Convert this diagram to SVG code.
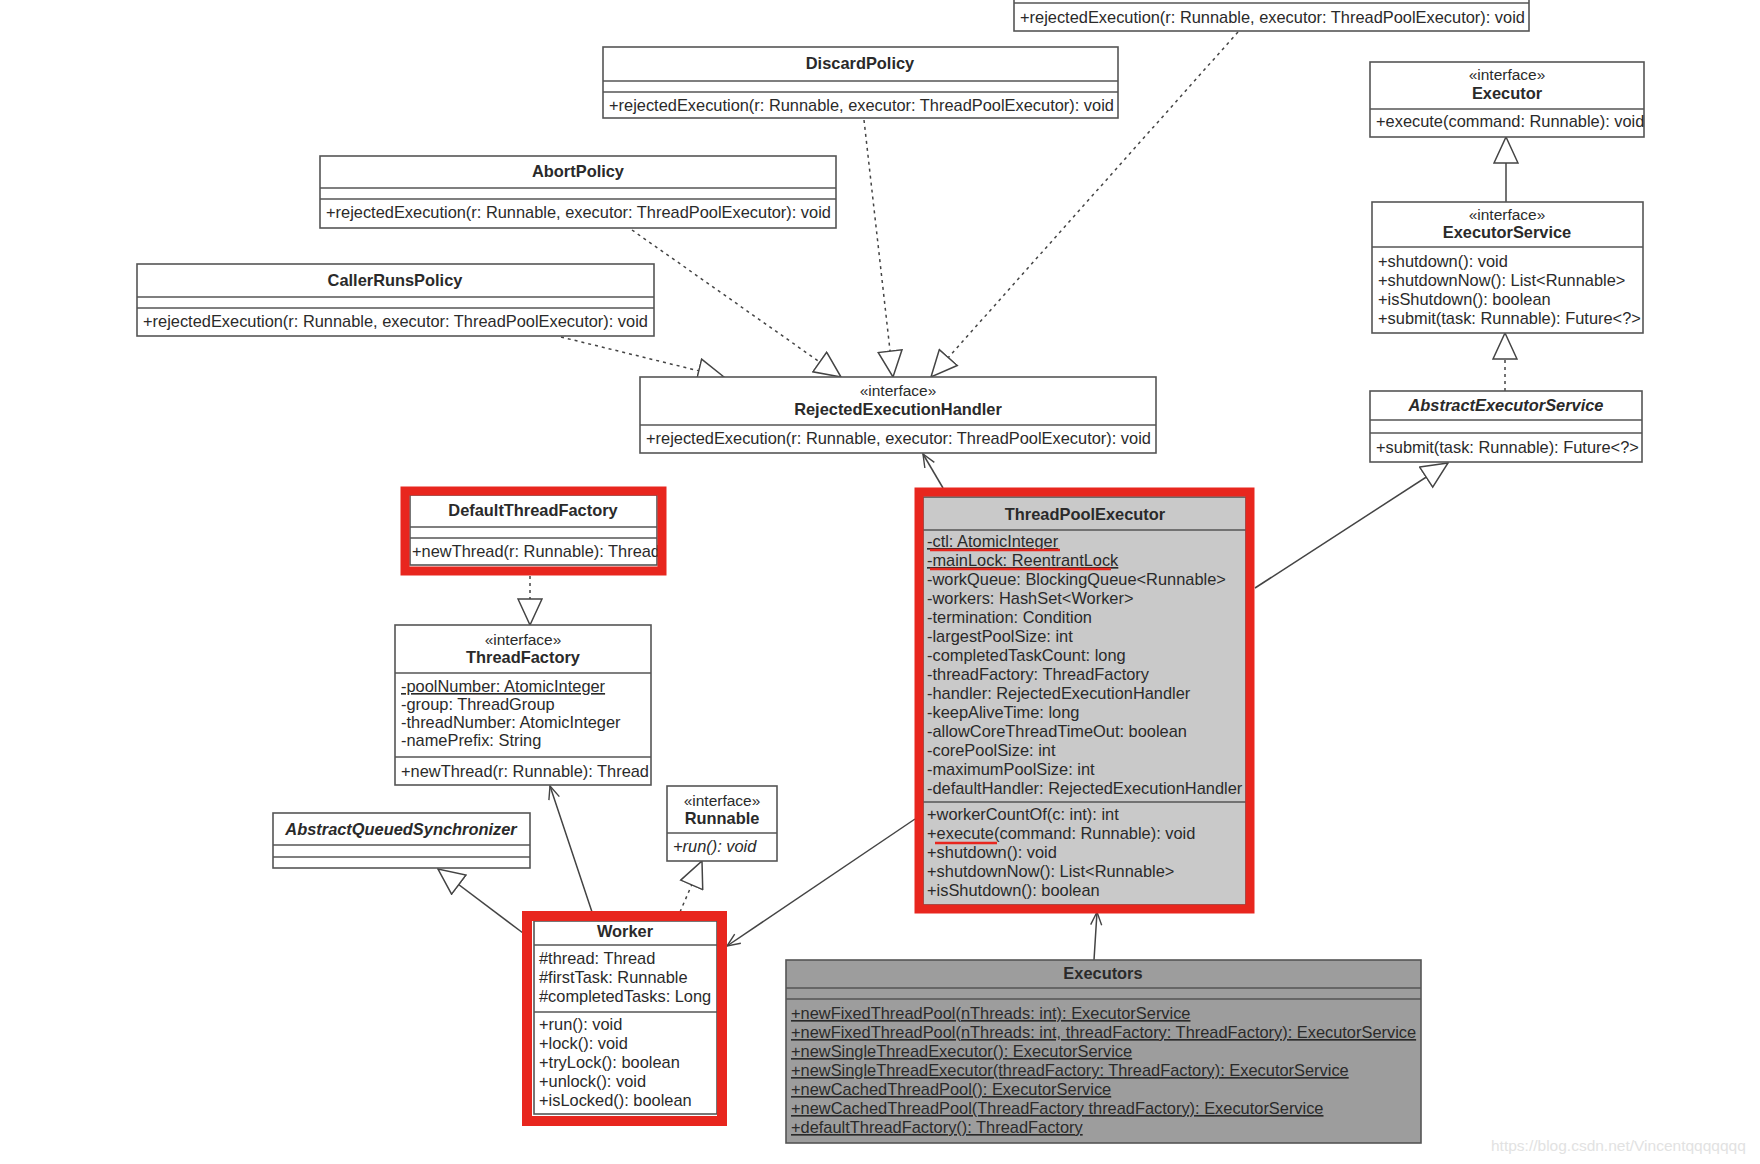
<svg xmlns="http://www.w3.org/2000/svg" width="1760" height="1164" viewBox="0 0 1760 1164">
<defs>
<marker id="tri" viewBox="-1 -1 28 26" refX="26" refY="12" markerWidth="28" markerHeight="26" markerUnits="userSpaceOnUse" orient="auto">
<path d="M0,0 L26,12 L0,24 Z" fill="#fff" stroke="#444" stroke-width="1.5"/>
</marker>
<marker id="open" viewBox="-1 -1 15 13" refX="13" refY="5.5" markerWidth="15" markerHeight="13" markerUnits="userSpaceOnUse" orient="auto">
<path d="M0,0 L13,5.5 L0,11" fill="none" stroke="#444" stroke-width="1.4"/>
</marker>
<style>
.box{fill:#fff;stroke:#555;stroke-width:1.6}
.tpe{fill:#c9c9c9;stroke:#555;stroke-width:1.6}
.exs{fill:#9d9d9d;stroke:#555;stroke-width:1.6}
.sep{stroke:#555;stroke-width:1.6}
text{font-family:"Liberation Sans",Arial,sans-serif;font-size:16.4px;fill:#2a2a2a}
.t{font-weight:bold;text-anchor:middle}
.ti{font-weight:bold;font-style:italic;text-anchor:middle}
.st{text-anchor:middle;font-size:15.5px}
.u{text-decoration:underline}
.it{font-style:italic}
.red{fill:none;stroke:#e8261e;stroke-width:9}
.redl{stroke:#e8261e;stroke-width:2.5}
.dash{fill:none;stroke:#444;stroke-width:1.5;stroke-dasharray:3 4}
.solid{fill:none;stroke:#444;stroke-width:1.5}
.wm{fill:#e2e2e2;font-size:15.5px}
</style>
</defs>
<rect width="1760" height="1164" fill="#fff"/>

<g id="connectors">
<line class="dash" x1="561" y1="337" x2="724" y2="377" marker-end="url(#tri)"/>
<line class="dash" x1="632" y1="230" x2="841" y2="377" marker-end="url(#tri)"/>
<line class="dash" x1="864" y1="120" x2="893" y2="377" marker-end="url(#tri)"/>
<line class="dash" x1="1238" y1="32" x2="931" y2="377" marker-end="url(#tri)"/>
<line class="solid" x1="1506" y1="202" x2="1506" y2="137" marker-end="url(#tri)"/>
<line class="dash" x1="1505" y1="391" x2="1505" y2="333" marker-end="url(#tri)"/>
<line class="solid" x1="1255" y1="588" x2="1448" y2="463" marker-end="url(#tri)"/>
<line class="solid" x1="943" y1="488" x2="923" y2="454" marker-end="url(#open)"/>
<line class="dash" x1="530" y1="576" x2="530" y2="625" marker-end="url(#tri)"/>
<line class="solid" x1="592" y1="912" x2="550" y2="786" marker-end="url(#open)"/>
<line class="solid" x1="523" y1="933" x2="438" y2="869" marker-end="url(#tri)"/>
<line class="dash" x1="680" y1="912" x2="702" y2="861" marker-end="url(#tri)"/>
<line class="solid" x1="915" y1="819" x2="727" y2="946" marker-end="url(#open)"/>
<line class="solid" x1="1094" y1="960" x2="1097" y2="912" marker-end="url(#open)"/>
</g>

<g id="node-top">
<rect class="box" x="1014" y="-50" width="515" height="81"/>
<line class="sep" x1="1014" y1="-8" x2="1529" y2="-8"/>
<line class="sep" x1="1014" y1="3" x2="1529" y2="3"/>
<text x="1020" y="23">+rejectedExecution(r: Runnable, executor: ThreadPoolExecutor): void</text>
</g>

<g id="node-discard">
<rect class="box" x="603" y="47" width="515" height="71"/>
<line class="sep" x1="603" y1="81" x2="1118" y2="81"/>
<line class="sep" x1="603" y1="92" x2="1118" y2="92"/>
<text class="t" x="860" y="69">DiscardPolicy</text>
<text x="609" y="111">+rejectedExecution(r: Runnable, executor: ThreadPoolExecutor): void</text>
</g>

<g id="node-abort">
<rect class="box" x="320" y="156" width="516" height="72"/>
<line class="sep" x1="320" y1="188" x2="836" y2="188"/>
<line class="sep" x1="320" y1="199" x2="836" y2="199"/>
<text class="t" x="578" y="177">AbortPolicy</text>
<text x="326" y="218">+rejectedExecution(r: Runnable, executor: ThreadPoolExecutor): void</text>
</g>

<g id="node-callerruns">
<rect class="box" x="137" y="264" width="517" height="72"/>
<line class="sep" x1="137" y1="297" x2="654" y2="297"/>
<line class="sep" x1="137" y1="308" x2="654" y2="308"/>
<text class="t" x="395" y="286">CallerRunsPolicy</text>
<text x="143" y="327">+rejectedExecution(r: Runnable, executor: ThreadPoolExecutor): void</text>
</g>

<g id="node-reh">
<rect class="box" x="640" y="377" width="516" height="76"/>
<line class="sep" x1="640" y1="425" x2="1156" y2="425"/>
<text class="st" x="898" y="396">«interface»</text>
<text class="t" x="898" y="415">RejectedExecutionHandler</text>
<text x="646" y="444">+rejectedExecution(r: Runnable, executor: ThreadPoolExecutor): void</text>
</g>

<g id="node-executor">
<rect class="box" x="1370" y="62" width="274" height="75"/>
<line class="sep" x1="1370" y1="109" x2="1644" y2="109"/>
<text class="st" x="1507" y="80">«interface»</text>
<text class="t" x="1507" y="99">Executor</text>
<text x="1376" y="127">+execute(command: Runnable): void</text>
</g>

<g id="node-executorservice">
<rect class="box" x="1372" y="202" width="271" height="131"/>
<line class="sep" x1="1372" y1="247" x2="1643" y2="247"/>
<text class="st" x="1507" y="220">«interface»</text>
<text class="t" x="1507" y="238">ExecutorService</text>
<text x="1378" y="267">+shutdown(): void</text>
<text x="1378" y="286">+shutdownNow(): List&lt;Runnable&gt;</text>
<text x="1378" y="305">+isShutdown(): boolean</text>
<text x="1378" y="324">+submit(task: Runnable): Future&lt;?&gt;</text>
</g>

<g id="node-abstractexecutorservice">
<rect class="box" x="1370" y="391" width="272" height="71"/>
<line class="sep" x1="1370" y1="420" x2="1642" y2="420"/>
<line class="sep" x1="1370" y1="433" x2="1642" y2="433"/>
<text class="ti" x="1506" y="411">AbstractExecutorService</text>
<text x="1376" y="453">+submit(task: Runnable): Future&lt;?&gt;</text>
</g>

<g id="node-defaultthreadfactory">
<rect class="box" x="410" y="495" width="247" height="70"/>
<line class="sep" x1="410" y1="527" x2="657" y2="527"/>
<line class="sep" x1="410" y1="538" x2="657" y2="538"/>
<text class="t" x="533" y="516">DefaultThreadFactory</text>
<text x="412" y="557">+newThread(r: Runnable): Thread</text>
<rect class="red" x="405" y="491" width="257" height="80"/>
</g>

<g id="node-threadfactory">
<rect class="box" x="395" y="625" width="256" height="160"/>
<line class="sep" x1="395" y1="673" x2="651" y2="673"/>
<line class="sep" x1="395" y1="757" x2="651" y2="757"/>
<text class="st" x="523" y="645">«interface»</text>
<text class="t" x="523" y="663">ThreadFactory</text>
<text class="u" x="401" y="692">-poolNumber: AtomicInteger</text>
<text x="401" y="710">-group: ThreadGroup</text>
<text x="401" y="728">-threadNumber: AtomicInteger</text>
<text x="401" y="746">-namePrefix: String</text>
<text x="401" y="777">+newThread(r: Runnable): Thread</text>
</g>

<g id="node-runnable">
<rect class="box" x="667" y="786" width="110" height="75"/>
<line class="sep" x1="667" y1="833" x2="777" y2="833"/>
<text class="st" x="722" y="806">«interface»</text>
<text class="t" x="722" y="824">Runnable</text>
<text class="it" x="673" y="852">+run(): void</text>
</g>

<g id="node-aqs">
<rect class="box" x="273" y="813" width="257" height="55"/>
<line class="sep" x1="273" y1="845" x2="530" y2="845"/>
<line class="sep" x1="273" y1="857" x2="530" y2="857"/>
<text class="ti" x="401" y="835">AbstractQueuedSynchronizer</text>
</g>

<g id="node-worker">
<rect class="box" x="534" y="921" width="183" height="193"/>
<line class="sep" x1="534" y1="945" x2="717" y2="945"/>
<line class="sep" x1="534" y1="1012" x2="717" y2="1012"/>
<text class="t" x="625" y="937">Worker</text>
<text x="539" y="964">#thread: Thread</text>
<text x="539" y="983">#firstTask: Runnable</text>
<text x="539" y="1002">#completedTasks: Long</text>
<text x="539" y="1030">+run(): void</text>
<text x="539" y="1049">+lock(): void</text>
<text x="539" y="1068">+tryLock(): boolean</text>
<text x="539" y="1087">+unlock(): void</text>
<text x="539" y="1106">+isLocked(): boolean</text>
<rect class="red" x="527" y="916" width="195" height="205" style="stroke-width:10"/>
</g>

<g id="node-threadpoolexecutor">
<rect class="tpe" x="923" y="497" width="323" height="408"/>
<line class="sep" x1="923" y1="530" x2="1246" y2="530"/>
<line class="sep" x1="923" y1="802" x2="1246" y2="802"/>
<text class="t" x="1085" y="520">ThreadPoolExecutor</text>
<text class="u" x="927" y="547">-ctl: AtomicInteger</text>
<text class="u" x="927" y="566">-mainLock: ReentrantLock</text>
<text x="927" y="585">-workQueue: BlockingQueue&lt;Runnable&gt;</text>
<text x="927" y="604">-workers: HashSet&lt;Worker&gt;</text>
<text x="927" y="623">-termination: Condition</text>
<text x="927" y="642">-largestPoolSize: int</text>
<text x="927" y="661">-completedTaskCount: long</text>
<text x="927" y="680">-threadFactory: ThreadFactory</text>
<text x="927" y="699">-handler: RejectedExecutionHandler</text>
<text x="927" y="718">-keepAliveTime: long</text>
<text x="927" y="737">-allowCoreThreadTimeOut: boolean</text>
<text x="927" y="756">-corePoolSize: int</text>
<text x="927" y="775">-maximumPoolSize: int</text>
<text x="927" y="794">-defaultHandler: RejectedExecutionHandler</text>
<text x="927" y="820">+workerCountOf(c: int): int</text>
<text x="927" y="839">+execute(command: Runnable): void</text>
<text x="927" y="858">+shutdown(): void</text>
<text x="927" y="877">+shutdownNow(): List&lt;Runnable&gt;</text>
<text x="927" y="896">+isShutdown(): boolean</text>
<line class="redl" x1="930" y1="550" x2="1060" y2="550"/>
<line class="redl" x1="930" y1="569" x2="1111" y2="569"/>
<line class="redl" x1="935" y1="843" x2="997" y2="843"/>
<rect class="red" x="919" y="492" width="331" height="417"/>
</g>

<g id="node-executors">
<rect class="exs" x="786" y="960" width="635" height="183"/>
<line class="sep" x1="786" y1="988" x2="1421" y2="988"/>
<line class="sep" x1="786" y1="999" x2="1421" y2="999"/>
<text class="t" x="1103" y="979">Executors</text>
<text class="u" x="791" y="1019">+newFixedThreadPool(nThreads: int): ExecutorService</text>
<text class="u" x="791" y="1038">+newFixedThreadPool(nThreads: int, threadFactory: ThreadFactory): ExecutorService</text>
<text class="u" x="791" y="1057">+newSingleThreadExecutor(): ExecutorService</text>
<text class="u" x="791" y="1076">+newSingleThreadExecutor(threadFactory: ThreadFactory): ExecutorService</text>
<text class="u" x="791" y="1095">+newCachedThreadPool(): ExecutorService</text>
<text class="u" x="791" y="1114">+newCachedThreadPool(ThreadFactory threadFactory): ExecutorService</text>
<text class="u" x="791" y="1133">+defaultThreadFactory(): ThreadFactory</text>
</g>

<text class="wm" x="1491" y="1151">https://blog.csdn.net/Vincentqqqqqqq</text>
</svg>
